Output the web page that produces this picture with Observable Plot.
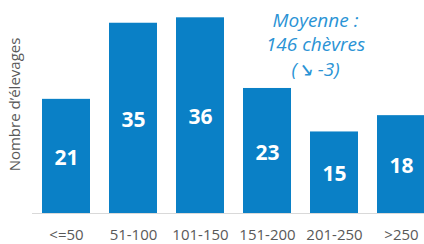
<!DOCTYPE html>
<html>
<head>
<meta charset="utf-8">
<script src="https://cdn.jsdelivr.net/npm/d3@7"></script>
<script src="https://cdn.jsdelivr.net/npm/@observablehq/plot@0.6"></script>
<style>
  html, body { margin: 0; padding: 0; background: #fff; }
  #chart svg { overflow: hidden; }
</style>
</head>
<body>
<div id="chart"></div>
<script>
const categories = ["<=50", "51-100", "101-150", "151-200", "201-250", ">250"];
const values = [21, 35, 36, 23, 15, 18];
const yLabel = "Nombre d\u2019élevages";
const noteLines = ["Moyenne :", "146 chèvres", "(\u2198 -3)"];
const noteCategory = "201-250";
const noteValue = 38.5;

const data = categories.map((c, i) => ({cat: c, value: values[i]}));
const font = "'Open Sans', sans-serif";
const barColor = "#0a80c6";

const chart = Plot.plot({
  width: 424,
  height: 244,
  marginLeft: 32,
  marginRight: -11,
  marginTop: 1,
  marginBottom: 31,
  style: {fontFamily: font, background: "#fff"},
  x: {domain: categories, paddingInner: 0.285, paddingOuter: 0.134, align: 0.5, axis: null},
  y: {domain: [0, 39], axis: null},
  marks: [
    Plot.barY(data, {x: "cat", y: "value", fill: barColor}),
    Plot.ruleY([0], {stroke: "#d9d9d9", strokeWidth: 1}),
    Plot.text(data, {x: "cat", y: d => d.value / 2, text: d => String(d.value), fill: "#fff", fontSize: 21, fontWeight: "bold", dy: 2}),
    Plot.text(data, {x: "cat", y: 0, text: "cat", fill: "#595959", fontSize: 15, dy: 22}),
    Plot.text([yLabel], {frameAnchor: "left", textAnchor: "middle", text: d => d, rotate: -90, dx: -17, dy: -3, fill: "#595959", fontSize: 15}),
    Plot.text([noteLines.join("\n")], {x: () => noteCategory, y: () => noteValue, text: d => d, fill: "#2a93d5", fontSize: 19, fontStyle: "italic", lineHeight: 1.27, lineAnchor: "top", dx: -19, dy: 6})
  ]
});
document.getElementById("chart").appendChild(chart);
</script>
</body>
</html>
